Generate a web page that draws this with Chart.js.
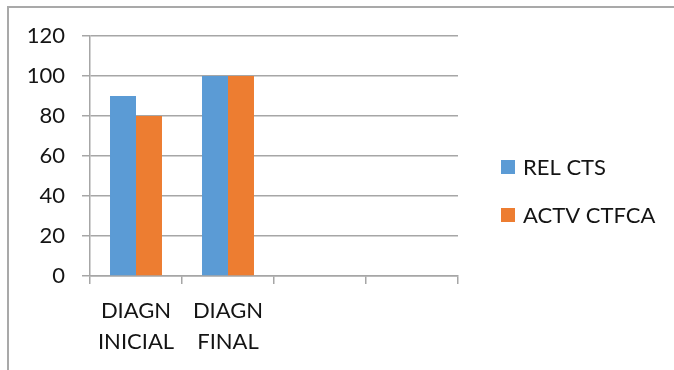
<!DOCTYPE html>
<html>
<head>
<meta charset="utf-8">
<script src="https://cdn.jsdelivr.net/npm/chart.js@4/dist/chart.umd.min.js"></script>
<style>
  html, body { margin: 0; padding: 0; background: #fff; overflow: hidden; }
  #frame {
    position: absolute; left: 7px; top: 6px; width: 720px; height: 420px;
    border-left: 2px solid #a9a9a9; border-top: 2px solid #a9a9a9;
  }
  #wrap { position: absolute; left: 0; top: 0; width: 674px; height: 370px; }
</style>
</head>
<body>
<div id="frame"></div>
<div id="wrap"><canvas id="c" width="674" height="370"></canvas></div>
<script>
// Categories (two-line labels) and series values
const categories = [['DIAGN', 'INICIAL'], ['DIAGN', 'FINAL'], '', ''];
const relCts = [90, 100, null, null];
const actvCtfca = [80, 100, null, null];
const seriesNames = ['REL CTS', 'ACTV CTFCA'];
const yTicks = { min: 0, max: 120, step: 20 };

const FONT = 'Lato, "Open Sans", sans-serif';
const TEXT = '#141414';
const GRID = '#a6a6a6';

// Legend drawn at the right of the plot, one item per dataset
const sideLegend = {
  id: 'sideLegend',
  afterDraw(chart) {
    const ctx = chart.ctx;
    const x = chart.chartArea.right + 43;
    const midY = chart.height / 2 + 6;
    const gap = 48;
    ctx.save();
    ctx.font = '22px ' + FONT;
    ctx.textBaseline = 'middle';
    ctx.textAlign = 'left';
    chart.data.datasets.forEach((ds, i) => {
      const cy = midY + (i - (chart.data.datasets.length - 1) / 2) * gap;
      ctx.fillStyle = ds.backgroundColor;
      ctx.fillRect(x, cy - 7, 14, 14);
      ctx.fillStyle = TEXT;
      ctx.fillText(ds.label, x + 22, cy + 1);
    });
    ctx.restore();
  }
};

new Chart(document.getElementById('c'), {
  type: 'bar',
  data: {
    labels: categories,
    datasets: [
      { label: seriesNames[0], data: relCts, backgroundColor: '#5b9bd5' },
      { label: seriesNames[1], data: actvCtfca, backgroundColor: '#ed7d31' }
    ]
  },
  options: {
    responsive: false,
    animation: false,
    events: [],
    layout: { padding: { top: 36, right: 216, bottom: 0, left: 0 } },
    datasets: { bar: { categoryPercentage: 0.565, barPercentage: 1 } },
    plugins: { legend: { display: false }, tooltip: { enabled: false } },
    scales: {
      x: {
        offset: true,
        grid: { display: true, drawOnChartArea: false, drawTicks: true, tickLength: 8, color: GRID, lineWidth: 1.5, offset: true },
        border: { display: true, color: GRID, width: 1.5 },
        ticks: { color: TEXT, font: { family: FONT, size: 22, lineHeight: 1.41 }, padding: 11, maxRotation: 0, autoSkip: false },
        afterFit(s) { s.height = 94; }
      },
      y: {
        min: yTicks.min, max: yTicks.max,
        grid: { color: GRID, lineWidth: 1.5, tickLength: 8 },
        border: { display: true, color: GRID, width: 1.5 },
        ticks: { stepSize: yTicks.step, color: TEXT, font: { family: FONT, size: 22 }, padding: 17 },
        afterFit(s) { s.width = 90; }
      }
    }
  },
  plugins: [sideLegend]
});
</script>
</body>
</html>
